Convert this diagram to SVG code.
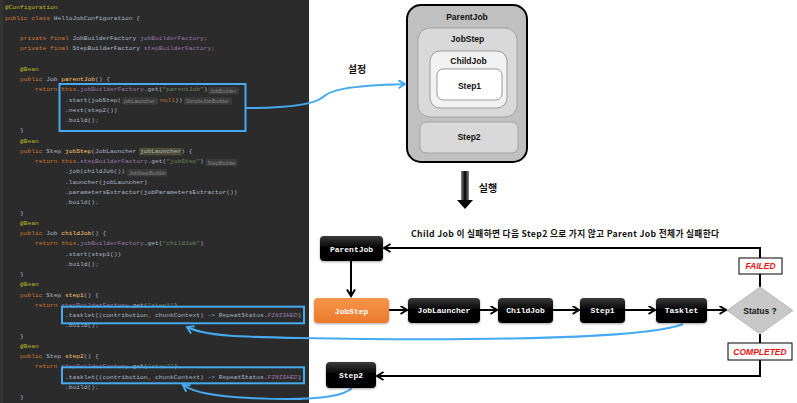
<svg xmlns="http://www.w3.org/2000/svg" width="797" height="403" viewBox="0 0 797 403">
<style>
.c{font-family:"Liberation Mono","DejaVu Sans Mono",monospace;font-size:6.25px;fill:#a9b7c6}
.k{fill:#cc7832}
.a{fill:#bbb529}
.m{fill:#ffc66d}
.f{fill:#9876aa}
.s{fill:#6a8759}
.fi{fill:#9876aa;font-style:italic}
.hb{fill:#3a3a3a}
.h{font-family:"Liberation Sans","DejaVu Sans",sans-serif;font-size:5.5px;fill:#858585}
.blue{fill:none;stroke:#45aaf0;stroke-width:2}
.lbl{font-family:"Liberation Sans","DejaVu Sans",sans-serif;font-weight:bold;font-size:8.5px;fill:#111;text-anchor:middle}
.kr{font-family:"Noto Sans CJK KR","Liberation Sans",sans-serif;font-weight:bold;fill:#111}
.node{stroke:none}
.nt{font-family:"Liberation Mono","DejaVu Sans Mono",monospace;font-weight:bold;font-size:8px;fill:#fff;text-anchor:middle}
.con{fill:none;stroke:#000;stroke-width:2}
.st{font-family:"Liberation Sans","DejaVu Sans",sans-serif;font-weight:bold;font-style:italic;font-size:8.5px;fill:#ee1111;text-anchor:middle}
</style>
<defs>
<linearGradient id="gBlack" x1="0" y1="0" x2="0" y2="1">
<stop offset="0" stop-color="#3c3c3c"/><stop offset="0.45" stop-color="#050505"/><stop offset="1" stop-color="#000"/>
</linearGradient>
<linearGradient id="gOrange" x1="0" y1="0" x2="0" y2="1">
<stop offset="0" stop-color="#f7954a"/><stop offset="1" stop-color="#ec7a2c"/>
</linearGradient>
<linearGradient id="gBar" x1="0" y1="0" x2="1" y2="0">
<stop offset="0" stop-color="#888"/><stop offset="0.5" stop-color="#000"/><stop offset="1" stop-color="#888"/>
</linearGradient>
<filter id="sh" x="-20%" y="-30%" width="140%" height="160%">
<feDropShadow dx="0" dy="1" stdDeviation="1.2" flood-color="#000" flood-opacity="0.35"/>
</filter>
<marker id="arB" markerUnits="userSpaceOnUse" markerWidth="10" markerHeight="12" refX="7" refY="4.5" orient="auto" viewBox="0 0 10 12">
<path d="M0.5,0.5 L7,4.5 L0.5,8.5" fill="none" stroke="#000" stroke-width="2"/>
</marker>
<marker id="arL" markerUnits="userSpaceOnUse" markerWidth="10" markerHeight="12" refX="7" refY="4.5" orient="auto" viewBox="0 0 10 12">
<path d="M0.5,0.5 L7,4.5 L0.5,8.5" fill="none" stroke="#45aaf0" stroke-width="2"/>
</marker>
</defs>
<rect width="797" height="403" fill="#fff"/>

<g id="code">
<rect x="0" y="0" width="309" height="403" fill="#2b2b2b"/>
<rect x="0" y="0" width="3" height="403" fill="#313335"/>
<text class="c" x="5" y="9.3"><tspan class="a">@Configuration</tspan></text>
<text class="c" x="5" y="19.56"><tspan class="k">public class </tspan>HelloJobConfiguration {</text>
<text class="c" x="20" y="40.08"><tspan class="k">private final </tspan>JobBuilderFactory <tspan class="f">jobBuilderFactory</tspan><tspan class="k">;</tspan></text>
<text class="c" x="20" y="50.34"><tspan class="k">private final </tspan>StepBuilderFactory <tspan class="f">stepBuilderFactory</tspan><tspan class="k">;</tspan></text>
<text class="c" x="20" y="70.86"><tspan class="a">@Bean</tspan></text>
<text class="c" x="20" y="81.12"><tspan class="k">public </tspan>Job <tspan class="m">parentJob</tspan>() {</text>
<text class="c" x="35" y="91.38"><tspan class="k">return this</tspan>.<tspan class="f">jobBuilderFactory</tspan>.get(<tspan class="s">"parentJob"</tspan>)</text>
<rect class="hb" x="208" y="87" width="31" height="7.5" rx="1.5"/>
<text class="h" x="210" y="93">JobBuilder</text>
<text class="c" x="65" y="101.64">.start(jobStep(</text>
<rect class="hb" x="122" y="97.3" width="36" height="7.5" rx="1.5"/>
<text class="h" x="124" y="103.2">jobLauncher:</text>
<text class="c" x="160" y="101.64"><tspan class="k">null</tspan>))</text>
<rect class="hb" x="184" y="97.3" width="48" height="7.5" rx="1.5"/>
<text class="h" x="186" y="103.2">SimpleJobBuilder</text>
<text class="c" x="65" y="111.9">.next(step2())</text>
<text class="c" x="65" y="122.16">.build()<tspan class="k">;</tspan></text>
<text class="c" x="20" y="132.42">}</text>
<text class="c" x="20" y="142.68"><tspan class="a">@Bean</tspan></text>
<rect x="139.5" y="147.8" width="42" height="7.5" fill="#4f4d33"/>
<text class="c" x="20" y="152.94"><tspan class="k">public </tspan>Step <tspan class="m">jobStep</tspan>(JobLauncher jobLauncher) {</text>
<text class="c" x="35" y="163.2"><tspan class="k">return this</tspan>.<tspan class="f">stepBuilderFactory</tspan>.get(<tspan class="s">"jobStep"</tspan>)</text>
<rect class="hb" x="205.5" y="158.8" width="32" height="7.5" rx="1.5"/>
<text class="h" x="207.5" y="164.7">StepBuilder</text>
<text class="c" x="65" y="173.46">.job(childJob())</text>
<rect class="hb" x="127" y="169.1" width="40" height="7.5" rx="1.5"/>
<text class="h" x="129" y="175">JobStepBuilder</text>
<text class="c" x="65" y="183.72">.launcher(jobLauncher)</text>
<text class="c" x="65" y="193.98">.parametersExtractor(jobParametersExtractor())</text>
<text class="c" x="65" y="204.24">.build()<tspan class="k">;</tspan></text>
<text class="c" x="20" y="214.5">}</text>
<text class="c" x="20" y="224.76"><tspan class="a">@Bean</tspan></text>
<text class="c" x="20" y="235.02"><tspan class="k">public </tspan>Job <tspan class="m">childJob</tspan>() {</text>
<text class="c" x="35" y="245.28"><tspan class="k">return this</tspan>.<tspan class="f">jobBuilderFactory</tspan>.get(<tspan class="s">"childJob"</tspan>)</text>
<text class="c" x="65" y="255.54">.start(step1())</text>
<text class="c" x="65" y="265.8">.build()<tspan class="k">;</tspan></text>
<text class="c" x="20" y="276.06">}</text>
<text class="c" x="20" y="286.32"><tspan class="a">@Bean</tspan></text>
<text class="c" x="20" y="296.58"><tspan class="k">public </tspan>Step <tspan class="m">step1</tspan>() {</text>
<text class="c" x="35" y="306.84"><tspan class="k">return </tspan><tspan class="f">stepBuilderFactory</tspan>.get(<tspan class="s">"step1"</tspan>)</text>
<text class="c" x="65" y="317.1">.tasklet((contribution<tspan class="k">,</tspan> chunkContext) -&gt; RepeatStatus.<tspan class="fi">FINISHED</tspan>)</text>
<text class="c" x="65" y="327.36">.build()<tspan class="k">;</tspan></text>
<text class="c" x="20" y="337.62">}</text>
<text class="c" x="20" y="347.88"><tspan class="a">@Bean</tspan></text>
<text class="c" x="20" y="358.14"><tspan class="k">public </tspan>Step <tspan class="m">step2</tspan>() {</text>
<text class="c" x="35" y="368.4"><tspan class="k">return </tspan><tspan class="f">stepBuilderFactory</tspan>.get(<tspan class="s">"step2"</tspan>)</text>
<text class="c" x="65" y="378.66">.tasklet((contribution<tspan class="k">,</tspan> chunkContext) -&gt; RepeatStatus.<tspan class="fi">FINISHED</tspan>)</text>
<text class="c" x="65" y="388.92">.build()<tspan class="k">;</tspan></text>
<text class="c" x="20" y="399.18">}</text>
<rect class="blue" x="59.5" y="84" width="186" height="47"/>
<rect class="blue" x="62" y="306.7" width="242" height="16.6"/>
<rect class="blue" x="62" y="367.3" width="242" height="16"/>
</g>

<g id="config-box">
<rect x="407" y="5" width="120" height="157" rx="14" fill="#c0c0c0" stroke="#000" stroke-width="2"/>
<text class="lbl" x="467" y="20">ParentJob</text>
<rect x="418" y="28" width="99" height="89" rx="12" fill="#d9d9d9" stroke="#a3a3a3"/>
<text class="lbl" x="467.5" y="42">JobStep</text>
<rect x="430" y="51" width="77" height="57" rx="10" fill="#f2f2f2" stroke="#9a9a9a"/>
<text class="lbl" x="468.5" y="64">ChildJob</text>
<rect x="437" y="69" width="65" height="31" rx="6" fill="#fff" stroke="#9a9a9a"/>
<text class="lbl" x="469.5" y="89">Step1</text>
<rect x="420" y="122" width="98" height="31" rx="6" fill="#d9d9d9" stroke="#a3a3a3"/>
<text class="lbl" x="469" y="140">Step2</text>
</g>

<g id="labels">
<text class="kr" x="357" y="73" font-size="10" text-anchor="middle">설정</text>
<text class="kr" x="488" y="192" font-size="10" text-anchor="middle">실행</text>
<text class="kr" x="411" y="237" font-size="8.7" textLength="308" lengthAdjust="spacing">Child Job 이 실패하면 다음 Step2 으로 가지 않고 Parent Job 전체가 실패한다</text>
</g>

<g id="run-arrow">
<rect x="461" y="171" width="8" height="30" fill="url(#gBar)"/>
<polygon points="457,200 473,200 465,209" fill="#000"/>
</g>

<g id="connectors">
<path class="blue" d="M246,108 C290,108 315,104 323,97 C331,90 345,86 405,84" marker-end="url(#arL)"/>
<path class="blue" d="M683,324 C640,342 400,340 300,338 C240,337 205,336 187,327" marker-end="url(#arL)"/>
<path class="blue" d="M352,388 C340,400 290,400 250,398 C215,396 195,393 183,385" marker-end="url(#arL)"/>
<path class="con" d="M351,261 V296" marker-end="url(#arB)"/>
<path class="con" d="M389,310 H407" marker-end="url(#arB)"/>
<path class="con" d="M480,310 H497" marker-end="url(#arB)"/>
<path class="con" d="M553,310 H579" marker-end="url(#arB)"/>
<path class="con" d="M625,310 H655" marker-end="url(#arB)"/>
<path class="con" d="M707,310 H726" marker-end="url(#arB)"/>
<path class="con" d="M760,287 V248 H384" marker-end="url(#arB)"/>
<path class="con" d="M760,334 V376 H377" marker-end="url(#arB)"/>
</g>

<g id="n-parentjob">
<rect class="node" x="320" y="236" width="63" height="25" rx="4" fill="url(#gBlack)" filter="url(#sh)"/>
<text class="nt" x="351.5" y="251.5">ParentJob</text>
</g>
<g id="n-jobstep">
<rect class="node" x="314" y="298" width="75" height="25" rx="4" fill="url(#gOrange)" filter="url(#sh)"/>
<text class="nt" x="351.5" y="314" font-size="9.3">JobStep</text>
</g>
<g id="n-joblauncher">
<rect class="node" x="408" y="298" width="72" height="25" rx="4" fill="url(#gBlack)" filter="url(#sh)"/>
<text class="nt" x="444" y="313">JobLauncher</text>
</g>
<g id="n-childjob">
<rect class="node" x="498" y="298" width="55" height="25" rx="4" fill="url(#gBlack)" filter="url(#sh)"/>
<text class="nt" x="525.5" y="313">ChildJob</text>
</g>
<g id="n-step1">
<rect class="node" x="580" y="298" width="45" height="25" rx="4" fill="url(#gBlack)" filter="url(#sh)"/>
<text class="nt" x="602.5" y="313">Step1</text>
</g>
<g id="n-tasklet">
<rect class="node" x="656" y="298" width="51" height="25" rx="4" fill="url(#gBlack)" filter="url(#sh)"/>
<text class="nt" x="681.5" y="313">Tasklet</text>
</g>
<g id="n-status">
<polygon points="760,287 793,310.5 760,334 727,310.5" fill="#c8c8c8" stroke="#bdbdbd"/>
<text class="lbl" x="760" y="313.5" font-size="8">Status ?</text>
</g>
<g id="n-step2">
<rect class="node" x="326" y="362" width="50" height="26" rx="4" fill="url(#gBlack)" filter="url(#sh)"/>
<text class="nt" x="351" y="378">Step2</text>
</g>
<g id="lbl-failed">
<rect x="739" y="258" width="43" height="16" fill="#fff" stroke="#000"/>
<text class="st" x="760.5" y="269">FAILED</text>
</g>
<g id="lbl-completed">
<rect x="728" y="343" width="64" height="17" fill="#fff" stroke="#000"/>
<text class="st" x="760" y="354.5">COMPLETED</text>
</g>
</svg>
